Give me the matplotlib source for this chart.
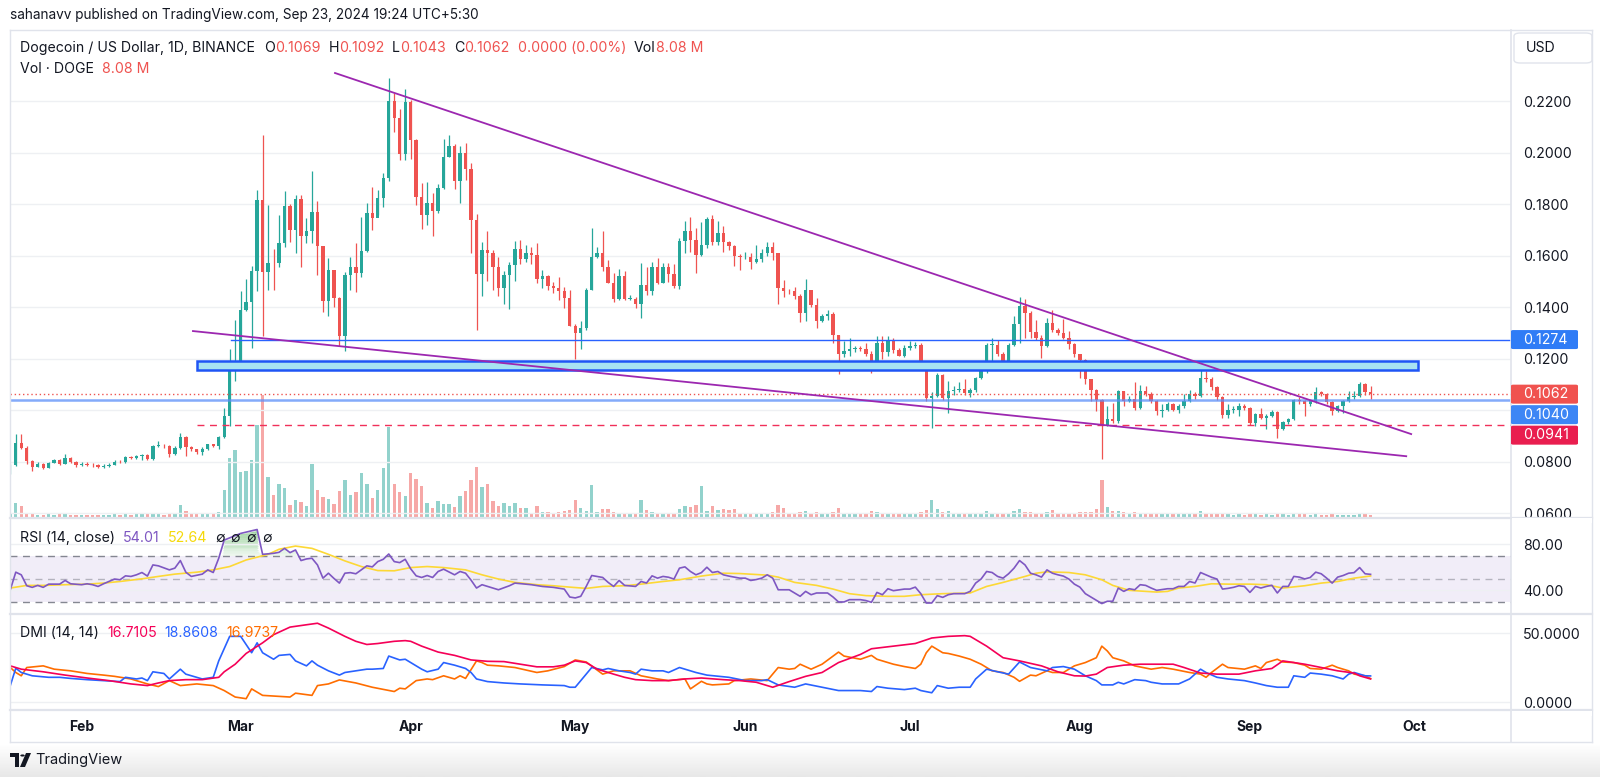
import numpy as np
import pandas as pd
import matplotlib
matplotlib.use("Agg")
import matplotlib.pyplot as plt
import matplotlib.dates as mdates
from matplotlib.patches import Rectangle, FancyBboxPatch, Polygon, Circle
from matplotlib.lines import Line2D

plt.rcParams["font.family"] = ["Inter", "DejaVu Sans"]

W, H = 1600, 777

# ---------------------------------------------------------------- data
# DOGE/USD daily candles, Binance, 19 Jan 2024 .. 23 Sep 2024
first_open = 0.0786
close = [
    # Jan 19-31
    0.0788, 0.0874, 0.0854, 0.0803, 0.0781, 0.0792, 0.0777, 0.0796, 0.0805, 0.0792, 0.0815, 0.0799, 0.0786,
    # Feb
    0.0790, 0.0788, 0.0786, 0.0781, 0.0784, 0.0788, 0.0800, 0.0797, 0.0818, 0.0815, 0.0820, 0.0825, 0.0809, 0.0861,
    0.0862, 0.0860, 0.0828, 0.0854, 0.0895, 0.0857, 0.0848, 0.0837, 0.0850, 0.0867, 0.0862, 0.0896, 0.0977, 0.1157, 0.1177,
    # Mar
    0.1390, 0.1419, 0.1542, 0.1815, 0.1538, 0.1573, 0.1570, 0.1648, 0.1794, 0.1699, 0.1818, 0.1677, 0.1697, 0.1770,
    0.1639, 0.1425, 0.1545, 0.1434, 0.1286, 0.1525, 0.1555, 0.1532, 0.1619, 0.1766, 0.1747, 0.1822, 0.1903, 0.2200,
    0.2135, 0.1994, 0.2196,
    # Apr
    0.2050, 0.1828, 0.1757, 0.1803, 0.1774, 0.1861, 0.1984, 0.2025, 0.1889, 0.1999, 0.1938, 0.1738, 0.1528, 0.1622,
    0.1612, 0.1557, 0.1476, 0.1525, 0.1564, 0.1625, 0.1587, 0.1612, 0.1601, 0.1510, 0.1519, 0.1483, 0.1476, 0.1463,
    0.1435, 0.1328,
    # May
    0.1299, 0.1319, 0.1467, 0.1596, 0.1612, 0.1557, 0.1495, 0.1431, 0.1521, 0.1431, 0.1431, 0.1412, 0.1485, 0.1461,
    0.1555, 0.1495, 0.1555, 0.1529, 0.1483, 0.1657, 0.1695, 0.1661, 0.1603, 0.1641, 0.1741, 0.1654, 0.1686, 0.1654,
    0.1637, 0.1599, 0.1594,
    # Jun
    0.1596, 0.1577, 0.1586, 0.1609, 0.1632, 0.1609, 0.1476, 0.1463, 0.1461, 0.1444, 0.1377, 0.1467, 0.1409, 0.1348,
    0.1364, 0.1374, 0.1293, 0.1219, 0.1228, 0.1237, 0.1240, 0.1237, 0.1219, 0.1190, 0.1261, 0.1225, 0.1267, 0.1232,
    0.1212, 0.1241,
    # Jul
    0.1250, 0.1254, 0.1190, 0.1048, 0.1054, 0.1138, 0.1048, 0.1074, 0.1080, 0.1083, 0.1067, 0.1077, 0.1125, 0.1160,
    0.1254, 0.1254, 0.1219, 0.1190, 0.1254, 0.1335, 0.1405, 0.1379, 0.1302, 0.1280, 0.1250, 0.1338, 0.1312, 0.1299,
    0.1280, 0.1258, 0.1216,
    # Aug
    0.1196, 0.1119, 0.1080, 0.1041, 0.0944, 0.0964, 0.0957, 0.1073, 0.1035, 0.1045, 0.1009, 0.1074, 0.1064, 0.1035,
    0.0996, 0.1002, 0.1022, 0.1002, 0.1017, 0.1035, 0.1061, 0.1054, 0.1125, 0.1121, 0.1090, 0.1052, 0.0983, 0.1000,
    0.1002, 0.1017, 0.1009,
    # Sep 1-23
    0.0951, 0.0986, 0.0970, 0.0979, 0.0992, 0.0925, 0.0953, 0.0964, 0.1041, 0.1035, 0.1022, 0.1035, 0.1070, 0.1061,
    0.1031, 0.0996, 0.1015, 0.1035, 0.1052, 0.1054, 0.1103, 0.1069, 0.1062,
]
high = [
    0.0792, 0.0906, 0.0906, 0.0860, 0.0805, 0.0800, 0.0795, 0.0800, 0.0812, 0.0810, 0.0831, 0.0818, 0.0803,
    0.0800, 0.0797, 0.0793, 0.0790, 0.0790, 0.0795, 0.0806, 0.0806, 0.0822, 0.0823, 0.0826, 0.0831, 0.0828, 0.0866,
    0.0880, 0.0870, 0.0863, 0.0862, 0.0912, 0.0900, 0.0862, 0.0850, 0.0855, 0.0870, 0.0868, 0.0900, 0.1009, 0.1236, 0.1351,
    0.1461, 0.1508, 0.1560, 0.1854, 0.2067, 0.1796, 0.1625, 0.1757, 0.1850, 0.1800, 0.1835, 0.1834, 0.1745, 0.1929,
    0.1813, 0.1639, 0.1590, 0.1545, 0.1439, 0.1538, 0.1596, 0.1650, 0.1751, 0.1803, 0.1867, 0.1854, 0.1921, 0.2290,
    0.2231, 0.2170, 0.2246,
    0.2205, 0.2054, 0.1880, 0.1886, 0.1845, 0.1877, 0.2054, 0.2067, 0.2035, 0.2025, 0.2037, 0.1960, 0.1760, 0.1654,
    0.1695, 0.1620, 0.1594, 0.1540, 0.1577, 0.1658, 0.1661, 0.1641, 0.1632, 0.1648, 0.1545, 0.1525, 0.1499, 0.1515,
    0.1480, 0.1467,
    0.1335, 0.1348, 0.1474, 0.1706, 0.1635, 0.1695, 0.1583, 0.1534, 0.1547, 0.1542, 0.1448, 0.1440, 0.1573, 0.1555,
    0.1577, 0.1592, 0.1573, 0.1570, 0.1568, 0.1667, 0.1735, 0.1751, 0.1706, 0.1732, 0.1751, 0.1757, 0.1735, 0.1716,
    0.1658, 0.1640, 0.1605,
    0.1615, 0.1609, 0.1641, 0.1625, 0.1654, 0.1654, 0.1612, 0.1505, 0.1470, 0.1480, 0.1450, 0.1508, 0.1467, 0.1435,
    0.1374, 0.1390, 0.1380, 0.1290, 0.1267, 0.1280, 0.1250, 0.1250, 0.1261, 0.1228, 0.1289, 0.1289, 0.1289, 0.1280,
    0.1241, 0.1254,
    0.1270, 0.1264, 0.1260, 0.1192, 0.1070, 0.1145, 0.1140, 0.1112, 0.1095, 0.1108, 0.1121, 0.1085, 0.1130, 0.1170,
    0.1261, 0.1280, 0.1274, 0.1225, 0.1260, 0.1364, 0.1439, 0.1431, 0.1385, 0.1351, 0.1293, 0.1357, 0.1390, 0.1320,
    0.1354, 0.1306, 0.1262,
    0.1218, 0.1198, 0.1122, 0.1082, 0.1043, 0.1015, 0.1028, 0.1080, 0.1075, 0.1055, 0.1108, 0.1099, 0.1095, 0.1070,
    0.1040, 0.1022, 0.1030, 0.1028, 0.1025, 0.1061, 0.1080, 0.1070, 0.1157, 0.1151, 0.1130, 0.1092, 0.1055, 0.1022,
    0.1015, 0.1028, 0.1025,
    0.1012, 0.0990, 0.1009, 0.0985, 0.1000, 0.0995, 0.0958, 0.0970, 0.1045, 0.1050, 0.1040, 0.1040, 0.1089, 0.1076,
    0.1066, 0.1035, 0.1020, 0.1040, 0.1076, 0.1074, 0.1108, 0.1105, 0.1092,
]
low = [
    0.0752, 0.0784, 0.0850, 0.0790, 0.0764, 0.0778, 0.0772, 0.0774, 0.0793, 0.0787, 0.0790, 0.0793, 0.0780,
    0.0782, 0.0784, 0.0780, 0.0776, 0.0775, 0.0780, 0.0785, 0.0793, 0.0795, 0.0810, 0.0812, 0.0806, 0.0805, 0.0805,
    0.0855, 0.0853, 0.0818, 0.0825, 0.0850, 0.0822, 0.0840, 0.0830, 0.0826, 0.0845, 0.0856, 0.0850, 0.0893, 0.0938, 0.1112,
    0.1170, 0.1385, 0.1241, 0.1461, 0.1286, 0.1467, 0.1467, 0.1557, 0.1635, 0.1654, 0.1609, 0.1557, 0.1650, 0.1650,
    0.1523, 0.1381, 0.1366, 0.1399, 0.1250, 0.1228, 0.1467, 0.1458, 0.1516, 0.1615, 0.1699, 0.1757, 0.1790, 0.1890,
    0.2080, 0.1970, 0.1973,
    0.1977, 0.1796, 0.1702, 0.1719, 0.1677, 0.1766, 0.1857, 0.1983, 0.1857, 0.1803, 0.1895, 0.1609, 0.1310, 0.1445,
    0.1503, 0.1467, 0.1444, 0.1412, 0.1392, 0.1503, 0.1568, 0.1577, 0.1568, 0.1495, 0.1474, 0.1467, 0.1454, 0.1428,
    0.1396, 0.1325,
    0.1199, 0.1237, 0.1312, 0.1467, 0.1590, 0.1542, 0.1493, 0.1418, 0.1428, 0.1426, 0.1426, 0.1396, 0.1357, 0.1448,
    0.1448, 0.1490, 0.1493, 0.1499, 0.1474, 0.1470, 0.1609, 0.1615, 0.1532, 0.1599, 0.1630, 0.1640, 0.1641, 0.1615,
    0.1622, 0.1561, 0.1545,
    0.1585, 0.1547, 0.1570, 0.1577, 0.1600, 0.1583, 0.1412, 0.1440, 0.1452, 0.1431, 0.1341, 0.1348, 0.1400, 0.1319,
    0.1341, 0.1350, 0.1261, 0.1142, 0.1205, 0.1209, 0.1225, 0.1228, 0.1212, 0.1145, 0.1190, 0.1200, 0.1209, 0.1222,
    0.1209, 0.1205,
    0.1232, 0.1240, 0.1170, 0.1035, 0.0932, 0.1050, 0.1041, 0.0990, 0.1060, 0.1070, 0.1060, 0.1052, 0.1070, 0.1120,
    0.1145, 0.1190, 0.1210, 0.1173, 0.1177, 0.1250, 0.1261, 0.1280, 0.1280, 0.1274, 0.1203, 0.1245, 0.1305, 0.1290,
    0.1275, 0.1237, 0.1205,
    0.1125, 0.1103, 0.1035, 0.0996, 0.0809, 0.0938, 0.0950, 0.0950, 0.1015, 0.1030, 0.1000, 0.1005, 0.1055, 0.1028,
    0.0980, 0.0974, 0.0995, 0.0995, 0.0990, 0.1010, 0.1030, 0.1045, 0.1050, 0.1110, 0.1080, 0.1040, 0.0970, 0.0970,
    0.0990, 0.0977, 0.1000,
    0.0941, 0.0938, 0.0965, 0.0925, 0.0975, 0.0893, 0.0921, 0.0945, 0.0960, 0.1025, 0.0979, 0.1015, 0.1028, 0.1055,
    0.1025, 0.0983, 0.0992, 0.0990, 0.1030, 0.1045, 0.1050, 0.1060, 0.1043,
]
# volume, millions of DOGE
volume = [
    300, 1400, 1100, 400, 300, 200, 200, 300, 200, 300, 400, 200, 200,
    200, 200, 200, 200, 200, 200, 300, 200, 300, 200, 300, 400, 300, 400, 300, 200, 300, 300, 1200, 600, 300, 300,
    300, 400, 300, 500, 2700, 5900, 6700,
    4500, 4600, 5700, 9100, 12100, 4000, 2200, 3300, 2900, 1200, 1700, 1500, 1100, 5300, 2700, 2000, 1800, 1300,
    2600, 3700, 2200, 2500, 4400, 3300, 1900, 2700, 4900, 8900, 3300, 2500, 2100,
    4400, 3800, 3100, 1400, 900, 1600, 1300, 1300, 1000, 2100, 2600, 3700, 5000, 3000, 3300, 1600, 1100, 1400, 1100,
    1400, 900, 900, 400, 1100, 500, 500, 400, 500, 600, 700,
    1700, 900, 600, 3200, 500, 800, 800, 500, 400, 400, 300, 400, 1700, 700, 500, 400, 400, 300, 400, 800, 1100,
    1000, 1200, 3100, 600, 1100, 700, 800, 700, 800, 400,
    300, 400, 300, 400, 400, 500, 1200, 900, 400, 400, 500, 600, 400, 500, 300, 300, 500, 900, 400, 400, 300, 300,
    300, 600, 500, 300, 400, 300, 300, 300,
    300, 300, 500, 700, 1700, 800, 500, 600, 300, 300, 300, 300, 300, 400, 600, 400, 400, 300, 400, 600, 800, 500,
    500, 400, 400, 500, 700, 400, 400, 400, 400,
    500, 500, 500, 800, 3700, 1000, 600, 600, 500, 400, 500, 400, 300, 300, 400, 300, 300, 300, 300, 300, 300, 300,
    600, 400, 300, 300, 400, 300, 200, 300, 200,
    300, 300, 200, 300, 200, 300, 300, 200, 400, 300, 300, 200, 300, 200, 200, 300, 200, 200, 200, 200, 300, 300, 200,
]

rsi_day = [-13, -12, -11, -10, -9, -8, -7, -6, -4, -3, -2, 0, 1, 2, 3, 4, 6, 7, 8, 9, 10, 11, 12, 13, 14, 16, 17,
           18, 19, 20, 22, 23, 24, 25, 26, 29, 32, 33, 35, 36, 37, 38, 39, 40, 41, 42, 43, 44, 45, 46, 47, 48, 49,
           50, 51, 52, 53, 54, 55, 56, 57, 58, 59, 60, 61, 62, 63, 64, 65, 66, 68, 69, 70, 71, 72, 73, 74, 76, 78,
           79, 81, 82, 84, 86, 88, 89, 90, 91, 92, 93, 95, 96, 97, 98, 99, 101, 102, 103, 104, 105, 106, 107, 108,
           109, 110, 111, 112, 113, 114, 115, 116, 117, 118, 119, 120, 121, 122, 123, 124, 125, 126, 127, 129, 131,
           132, 133, 134, 136, 137, 138, 139, 140, 142, 143, 144, 145, 146, 147, 148, 150, 151, 152, 153, 154, 155,
           156, 157, 158, 159, 161, 162, 163, 164, 165, 166, 167, 168, 169, 170, 171, 172, 173, 174, 175, 176, 177,
           178, 179, 180, 181, 182, 183, 184, 185, 186, 187, 188, 189, 190, 191, 192, 193, 194, 195, 196, 198, 199,
           200, 201, 202, 203, 204, 205, 206, 207, 208, 209, 210, 211, 212, 213, 214, 215, 216, 217, 218, 219, 220,
           221, 222, 223, 224, 225, 226, 227, 228, 229, 230, 231, 232, 233, 234, 235]
rsi_val = [40.6, 55.9, 53.6, 44.1, 42.7, 44.4, 42.7, 45.5, 45.5, 48.7, 45.8, 45.0, 45.8, 45.0, 43.5, 45.8, 49.9,
           49.3, 52.7, 52.2, 53.6, 55.6, 52.5, 62.2, 61.4, 57.9, 59.4, 66.0, 55.9, 52.2, 54.2, 57.9, 55.6, 68.0,
           83.8, 89.6, 93.0, 71.4, 72.3, 73.2, 76.6, 72.9, 75.2, 66.0, 67.4, 68.0, 62.2, 50.7, 55.0, 50.5, 46.4,
           55.0, 55.5, 54.5, 57.9, 61.4, 60.5, 65.1, 67.1, 71.7, 65.1, 64.2, 67.1, 58.8, 52.7, 51.3, 53.0, 51.3,
           56.5, 58.5, 53.6, 56.5, 55.0, 49.0, 42.1, 45.0, 43.5, 40.6, 44.1, 46.4, 45.5, 45.0, 43.5, 42.7, 41.2,
           34.3, 33.5, 34.9, 43.5, 53.0, 51.3, 47.0, 43.5, 48.7, 44.4, 43.5, 47.8, 46.5, 52.7, 50.7, 52.2, 51.5,
           49.9, 59.4, 60.5, 56.5, 53.6, 55.5, 60.2, 55.6, 56.5, 53.6, 52.5, 51.6, 50.7, 50.7, 48.7, 49.5, 50.7,
           53.6, 50.7, 40.6, 40.6, 34.9, 39.2, 36.3, 37.8, 37.8, 34.3, 30.0, 30.0, 32.0, 32.0, 31.2, 29.7, 38.3,
           36.3, 41.5, 39.8, 41.2, 41.2, 42.9, 37.2, 29.1, 29.1, 35.5, 34.0, 36.3, 37.2, 37.2, 39.2, 46.4, 50.0,
           56.5, 55.6, 52.2, 50.7, 54.5, 59.4, 66.0, 62.2, 55.0, 53.6, 51.6, 57.9, 55.0, 53.6, 52.5, 49.9, 45.5,
           42.9, 37.2, 34.3, 31.4, 28.6, 30.6, 30.6, 42.1, 39.2, 41.5, 40.6, 45.0, 44.4, 42.1, 40.1, 41.5, 41.5,
           43.5, 43.5, 47.8, 46.5, 55.6, 53.6, 51.5, 49.9, 41.2, 41.8, 42.7, 44.1, 43.5, 38.3, 43.5, 42.1, 43.5,
           44.5, 37.8, 43.5, 43.5, 52.2, 51.6, 50.0, 51.3, 55.9, 54.5, 50.7, 46.4, 51.6, 53.0, 55.0, 55.5, 59.9,
           54.5, 54.0]
rsi_ma_day = [-13, -10, -7, -3, 1, 4, 7, 11, 14, 17, 21, 24, 27, 30, 34, 36, 39, 42, 45, 48, 51, 54, 57, 60, 63,
              66, 70, 73, 76, 79, 83, 86, 89, 92, 95, 99, 102, 106, 109, 113, 117, 120, 125, 127, 130, 134, 137,
              140, 143, 147, 150, 153, 157, 162, 165, 168, 172, 174, 176, 180, 183, 186, 188, 191, 194, 196, 198,
              200, 203, 206, 209, 213, 216, 219, 223, 226, 229, 232, 235]
rsi_ma_val = [42.1, 44.4, 44.4, 45.0, 45.5, 46.4, 47.8, 50.1, 52.2, 54.2, 55.9, 57.9, 60.8, 66.5, 71.4, 75.8,
              78.6, 76.6, 71.4, 65.7, 60.8, 57.3, 57.1, 59.9, 60.8, 59.9, 57.9, 53.6, 49.9, 47.0, 45.0, 44.1, 42.9,
              41.8, 43.5, 44.1, 45.5, 47.8, 49.3, 52.5, 55.0, 54.7, 53.3, 51.6, 47.0, 44.4, 41.2, 37.2, 35.5, 34.9,
              34.9, 36.3, 37.2, 37.8, 43.5, 47.0, 52.2, 55.0, 56.2, 55.6, 53.6, 49.3, 44.4, 40.1, 39.2, 38.6, 39.2,
              42.1, 43.5, 45.8, 45.5, 45.5, 45.0, 42.1, 44.1, 46.4, 47.8, 50.7, 52.6]

adx_day = [-13, -11, -7, -3, 1, 5, 9, 12, 14, 16, 19, 22, 25, 26, 28, 30, 33, 35, 38, 41, 43, 45, 48, 50, 52, 54,
           57, 59, 60, 62, 65, 68, 71, 74, 77, 80, 83, 86, 88, 90, 92, 94, 97, 99, 101, 104, 107, 110, 113, 114,
           117, 120, 123, 126, 129, 132, 135, 138, 142, 144, 148, 152, 155, 158, 161, 162, 165, 168, 171, 175,
           178, 181, 183, 185, 187, 190, 193, 196, 199, 201, 204, 207, 211, 214, 217, 219, 221, 223, 226, 229,
           232, 233, 235]
adx_val = [26.2, 23.8, 21.9, 19.5, 17.4, 15.5, 13.1, 11.9, 13.8, 15.5, 16.2, 16.2, 17.9, 21.9, 27.4, 35.2, 42.9,
           48.8, 54.3, 56.0, 57.1, 53.6, 47.6, 44.0, 41.7, 42.4, 44.0, 44.5, 44.0, 40.5, 36.2, 33.8, 30.5, 29.5,
           29.3, 27.4, 25.5, 25.5, 26.7, 29.8, 28.6, 23.8, 20.2, 17.9, 16.2, 15.5, 15.5, 16.7, 17.4, 17.1, 16.2,
           15.5, 14.3, 10.7, 14.8, 18.6, 21.4, 28.6, 34.5, 38.6, 40.5, 42.4, 46.4, 47.6, 48.1, 47.6, 40.5, 32.1,
           29.8, 26.2, 21.9, 19.0, 18.8, 20.2, 25.0, 26.7, 27.4, 27.4, 27.4, 25.0, 21.0, 20.2, 20.2, 22.6, 24.3,
           29.8, 28.6, 27.4, 25.0, 22.6, 21.0, 19.0, 16.7]
pdi_day = [-13, -12, -11, -9, -6, -4, -2, 1, 4, 7, 8, 10, 11, 12, 13, 15, 16, 18, 19, 21, 22, 24, 25, 27, 29, 31,
           32, 33, 35, 36, 38, 39, 41, 42, 43, 45, 47, 48, 50, 52, 53, 55, 56, 58, 59, 60, 62, 63, 65, 66, 68, 70,
           71, 72, 74, 77, 80, 84, 88, 89, 90, 93, 95, 96, 98, 100, 101, 102, 104, 106, 107, 109, 110, 112, 114,
           118, 121, 124, 125, 127, 130, 132, 135, 138, 142, 144, 145, 147, 150, 152, 153, 155, 156, 158, 160, 162,
           163, 165, 167, 169, 171, 173, 176, 177, 179, 181, 183, 185, 186, 188, 189, 190, 192, 194, 195, 197, 199,
           200, 202, 204, 205, 207, 209, 212, 214, 216, 218, 220, 221, 223, 224, 226, 228, 230, 231, 232, 234, 235]
pdi_val = [11.9, 24.5, 21.4, 19.0, 17.9, 17.9, 17.1, 16.2, 15.5, 14.8, 17.9, 16.7, 17.4, 15.5, 21.9, 20.7, 16.7,
           23.8, 20.2, 17.9, 16.7, 17.9, 29.8, 47.6, 47.6, 35.7, 42.9, 35.7, 31.0, 33.8, 34.5, 29.8, 26.2, 29.8,
           26.7, 22.6, 19.5, 21.4, 22.6, 23.8, 23.8, 24.3, 33.3, 30.5, 31.0, 28.6, 23.8, 21.9, 23.8, 28.6, 26.7,
           24.3, 21.4, 16.7, 14.8, 13.8, 13.1, 12.4, 11.9, 10.7, 10.7, 25.0, 23.3, 24.3, 22.6, 21.4, 20.2, 23.8,
           22.6, 22.6, 21.4, 25.0, 23.8, 21.4, 19.5, 17.9, 15.5, 15.5, 16.2, 12.4, 10.7, 13.1, 10.7, 8.3, 8.3, 7.6,
           11.2, 10.0, 9.0, 10.0, 8.3, 6.7, 11.9, 10.0, 10.7, 10.7, 16.7, 23.8, 21.9, 20.2, 29.0, 25.0, 22.6, 25.0,
           25.7, 23.8, 19.0, 15.5, 12.4, 12.4, 14.3, 13.1, 16.2, 15.5, 14.3, 13.1, 13.1, 13.1, 16.7, 23.8, 21.4,
           17.9, 16.7, 15.5, 13.8, 11.9, 10.7, 10.7, 19.0, 17.9, 21.0, 20.2, 19.0, 16.7, 20.2, 21.4, 19.0, 18.9]
mdi_day = [-13, -12, -11, -10, -7, -5, -2, 1, 4, 6, 9, 12, 14, 16, 18, 21, 24, 26, 28, 30, 31, 33, 38, 39, 42, 43,
           45, 47, 50, 53, 57, 58, 59, 61, 63, 64, 66, 68, 69, 70, 72, 73, 74, 76, 79, 83, 85, 88, 90, 92, 95, 97,
           100, 102, 105, 107, 110, 111, 113, 114, 115, 118, 119, 122, 125, 127, 129, 130, 131, 133, 135, 138, 139,
           142, 144, 145, 148, 150, 152, 153, 154, 155, 157, 158, 160, 162, 164, 166, 168, 170, 171, 173, 174, 176,
           177, 179, 181, 183, 185, 186, 187, 188, 190, 192, 195, 197, 199, 202, 204, 205, 206, 208, 209, 212, 214,
           215, 216, 218, 219, 221, 223, 224, 226, 228, 229, 231, 232, 234, 235]
mdi_val = [25.0, 21.4, 19.0, 25.0, 26.2, 23.8, 22.6, 20.7, 19.5, 18.6, 16.7, 13.1, 11.2, 15.5, 11.9, 13.1, 11.9,
           8.3, 3.6, 2.4, 9.5, 4.8, 3.6, 6.4, 4.8, 11.9, 13.1, 16.0, 13.8, 10.7, 7.6, 10.0, 9.5, 15.5, 16.7, 16.2,
           19.0, 16.7, 19.0, 17.1, 29.8, 28.6, 26.7, 26.2, 25.0, 21.4, 22.6, 25.7, 30.5, 29.0, 20.2, 22.6, 22.6,
           19.0, 16.7, 15.5, 16.7, 9.5, 15.0, 13.1, 12.4, 13.1, 15.5, 16.7, 15.5, 25.0, 23.8, 24.3, 27.4, 23.8,
           27.4, 36.2, 33.3, 31.0, 33.8, 31.0, 27.4, 25.7, 24.3, 27.4, 35.7, 40.5, 35.7, 35.2, 33.3, 31.0, 27.4,
           22.6, 21.4, 17.9, 15.0, 19.5, 19.0, 22.6, 21.4, 21.4, 26.2, 28.6, 32.1, 40.5, 37.0, 32.1, 29.8, 26.2,
           23.8, 25.0, 23.8, 21.4, 20.2, 17.9, 21.4, 27.4, 25.0, 23.8, 26.2, 24.3, 28.6, 31.0, 29.0, 28.6, 26.7,
           24.3, 23.8, 26.7, 25.0, 22.6, 20.2, 19.0, 17.0]

# drawings on the price pane (day offsets from 1 Feb 2024)
upper_trend_day, upper_trend_price = [46.2, 242.4], [0.2309, 0.0907]
lower_trend_day, lower_trend_price = [20.3, 241.5], [0.1307, 0.0821]
zone_day, zone_price = [21.0, 243.6], [0.1155, 0.1190]
resist_level, resist_start = 0.1274, 27.2
support_level = 0.1040
last_price = 0.1062
low_level, low_start = 0.0941, 21.0

# ---------------------------------------------------------------- style
GREEN, RED = "#26a69a", "#ef5350"
DARK = "#131722"
GRID = "#eef0f3"
SEP = "#e0e3eb"
FS = 10.2

def fx(x):
    return x / W

def fy(y):
    return 1 - y / H

def rect(x0, y0, x1, y1):
    return [fx(x0), fy(y1), (x1 - x0) / W, (y1 - y0) / H]

fig = plt.figure(figsize=(16, 7.77), dpi=100)
fig.patch.set_facecolor("white")

# footer background
ax_bg = fig.add_axes(rect(0, 744, 1600, 777))
ax_bg.imshow(np.linspace(1.0, 0.0, 30).reshape(-1, 1), cmap=plt.matplotlib.colors.LinearSegmentedColormap.from_list(
    "f", ["#e8e8e8", "#ffffff"]), aspect="auto", extent=(0, 1, 0, 1))
ax_bg.axis("off")

L, R = 10, 1511
ax_vol = fig.add_axes(rect(L, 30, R, 517))
ax = fig.add_axes(rect(L, 30, R, 517), sharex=ax_vol)
ax.set_facecolor("none")
ax_rsi = fig.add_axes(rect(L, 518, R, 613), sharex=ax_vol)
ax_dmi = fig.add_axes(rect(L, 614, R, 710), sharex=ax_vol)

feb1 = mdates.date2num(pd.Timestamp("2024-02-01"))
px_per_day = 5.485
x_left = feb1 - (81.6 - L) / px_per_day
ax_vol.set_xlim(x_left, x_left + (R - L) / px_per_day)

dates = pd.date_range("2024-01-19", periods=len(close), freq="D")
x = mdates.date2num(dates)
c = np.array(close)
hi = np.array(high)
lo = np.array(low)
vol = np.array(volume, dtype=float)
o = np.r_[first_open, c[:-1]]   # 24/7 market: each open is the previous close
up = c >= o
col = np.where(up, GREEN, RED)

for a in (ax_vol, ax, ax_rsi, ax_dmi):
    for s in a.spines.values():
        s.set_visible(False)
    a.tick_params(length=0, labelbottom=False, labelleft=False)

# volume
ax_vol.bar(x, vol, width=0.62, color=np.where(up, GREEN + "80", RED + "80"), linewidth=0)
ax_vol.set_ylim(0, vol.max() * 4.0)
ax_vol.set_yticks([])

# price pane
ax.set_ylim(0.0585, 0.2476)
ticks = [0.06, 0.08, 0.10, 0.12, 0.14, 0.16, 0.18, 0.20, 0.22]
ax.set_yticks(ticks)
ax.set_yticklabels(["" if abs(t - 0.10) < 1e-9 else f"{t:.4f}" for t in ticks])
for a in (ax, ax_rsi, ax_dmi):
    a.yaxis.tick_right()
    a.tick_params(axis="y", length=0, pad=8.6, labelsize=FS, labelcolor=DARK, labelright=True)
ax.grid(axis="y", color=GRID, lw=1)
ax.set_axisbelow(True)

ax.vlines(x, lo, hi, colors=col, lw=0.9, zorder=3)
ax.bar(x, np.maximum(np.abs(c - o), 0.00025), bottom=np.minimum(o, c), width=0.62, color=col,
       linewidth=0, zorder=4)

x_right = ax.get_xlim()[1]
zx = [feb1 + d for d in zone_day]
ax.add_patch(Rectangle((zx[0], zone_price[0]), zx[1] - zx[0], zone_price[1] - zone_price[0],
                       facecolor="#a8e3f2", edgecolor="#1f55f5", lw=1.8, zorder=5))
ax.plot([feb1 + resist_start, x_right], [resist_level] * 2, color="#2962ff", lw=1.0, zorder=5)
ax.axhline(support_level, color="#5b8ff9", lw=1.8, alpha=0.75, zorder=5)
ax.axhline(last_price, color=RED, lw=1.0, ls=(0, (1, 2)), zorder=5)
ax.plot([feb1 + low_start, x_right], [low_level] * 2, color="#f0305a", lw=1.0, ls=(0, (5, 4)), zorder=5)
ax.plot([feb1 + d for d in upper_trend_day], upper_trend_price, color="#9c27b0", lw=1.3, zorder=6)
ax.plot([feb1 + d for d in lower_trend_day], lower_trend_price, color="#9c27b0", lw=1.3, zorder=6)

# RSI pane
ax_rsi.set_ylim(20.4, 103)
ax_rsi.set_yticks([40, 80])
ax_rsi.set_yticklabels(["40.00", "80.00"])
ax_rsi.grid(axis="y", color=GRID, lw=1)
ax_rsi.axhspan(30, 70, color="#7e57c2", alpha=0.1, lw=0)
for lvl in (30, 50, 70):
    ax_rsi.axhline(lvl, color="#787b86", lw=1, ls=(0, (5, 4)), alpha=0.9 if lvl != 50 else 0.5)
xr = feb1 + np.array(rsi_day, dtype=float)
rv = np.array(rsi_val)
for k, lv in enumerate(np.arange(70, 94, 2.0)):
    ax_rsi.fill_between(xr, lv, np.minimum(rv, lv + 2), where=rv > lv, interpolate=True,
                        color="#4caf50", alpha=0.10 + 0.04 * k, lw=0)
ax_rsi.fill_between(xr, rv, 30, where=rv < 30, interpolate=True, color="#f23645", alpha=0.25, lw=0)
ax_rsi.plot(feb1 + np.array(rsi_ma_day, dtype=float), rsi_ma_val, color="#fdd835", lw=1.2)
ax_rsi.plot(xr, rv, color="#7e57c2", lw=1.2)

# DMI pane
ax_dmi.set_ylim(-5.8, 63.8)
ax_dmi.set_yticks([0, 50])
ax_dmi.set_yticklabels(["0.0000", "50.0000"])
ax_dmi.grid(axis="y", color=GRID, lw=1)
ax_dmi.plot(feb1 + np.array(mdi_day, dtype=float), mdi_val, color="#ff6d00", lw=1.2)
ax_dmi.plot(feb1 + np.array(pdi_day, dtype=float), pdi_val, color="#2962ff", lw=1.2)
ax_dmi.plot(feb1 + np.array(adx_day, dtype=float), adx_val, color="#f50057", lw=1.2)
ax_dmi.xaxis.set_major_locator(mdates.MonthLocator())
ax_dmi.xaxis.set_major_formatter(mdates.DateFormatter("%b"))
ax_dmi.tick_params(axis="x", labelbottom=True, pad=7, labelsize=10, labelcolor=DARK)
for lab in ax_dmi.get_xticklabels():
    lab.set_fontweight("bold")

# ---------------------------------------------------------------- frame
def hline(y, x0, x1, color=SEP, lw=1.2):
    fig.add_artist(Line2D([fx(x0), fx(x1)], [fy(y), fy(y)], color=color, lw=lw, transform=fig.transFigure))

def vline(xp, y0, y1, color=SEP, lw=1.2):
    fig.add_artist(Line2D([fx(xp), fx(xp)], [fy(y0), fy(y1)], color=color, lw=lw, transform=fig.transFigure))

# the scale clips labels that run past a pane border
for y0, y1 in ((518, 523), (710.5, 716)):
    fig.add_artist(Rectangle((fx(R + 1), fy(y1)), (1591 - R) / W, (y1 - y0) / H, transform=fig.transFigure,
                             facecolor="white", edgecolor="none", zorder=5))

for yy in (517.5, 613.5, 710):
    hline(yy, L, 1592, lw=1.6)
hline(30, L, 1592, lw=1.0)
hline(742, L, 1592, lw=1.0)
vline(L, 30, 742, lw=1.0)
vline(1592, 30, 742, lw=1.0)
vline(R, 30, 742, lw=1.2)

fig.add_artist(FancyBboxPatch((fx(1514), fy(63)), 78 / W, 30 / H, boxstyle="round,pad=0,rounding_size=0.004",
                              transform=fig.transFigure, facecolor="white", edgecolor=SEP, lw=1))
fig.text(fx(1526), fy(48), "USD", fontsize=FS, color=DARK, va="center", ha="left")

# price labels on the scale
def price_py(p):
    return H - ax.transData.transform((x_left, p))[1]

boxes = [(resist_level, "#2f7cf6"), (last_price, "#f0524f"), (support_level, "#3d86f5"), (low_level, "#e91e4f")]
prev = -100
for p, color in boxes:
    yy = max(price_py(p), prev + 20.5)
    prev = yy
    fig.add_artist(FancyBboxPatch((fx(1511), fy(yy + 9.5)), 67 / W, 19 / H,
                                  boxstyle="round,pad=0,rounding_size=0.0015", transform=fig.transFigure,
                                  facecolor=color, edgecolor="none", zorder=10))
    fig.text(fx(1523), fy(yy), f"{p:.4f}", fontsize=FS, color="white", va="center", ha="left", zorder=11)

# ---------------------------------------------------------------- texts
renderer = fig.canvas.get_renderer()

def rich(x0, y0, parts, size=FS):
    xx = x0
    for s, color, gap in parts:
        t = fig.text(fx(xx), fy(y0), s, color=color, fontsize=size, va="center", ha="left", zorder=12)
        xx += t.get_window_extent(renderer=renderer).width + gap

fig.text(fx(10), fy(15), "sahanavv published on TradingView.com, Sep 23, 2024 19:24 UTC+5:30",
         fontsize=9.8, color=DARK, va="center", ha="left")
rich(20, 48, [("Dogecoin / US Dollar, 1D, BINANCE", DARK, 9),
              ("O", DARK, 0), ("0.1069", RED, 8), ("H", DARK, 0), ("0.1092", RED, 8),
              ("L", DARK, 0), ("0.1043", RED, 8), ("C", DARK, 0), ("0.1062", RED, 8),
              ("0.0000 (0.00%)", RED, 8), ("Vol", DARK, 0), ("8.08 M", RED, 0)])
rich(20, 69, [("Vol · DOGE", DARK, 8), ("8.08 M", RED, 0)])
rich(20, 538, [("RSI (14, close)", DARK, 8), ("54.01", "#7e57c2", 8), ("52.64", "#f5d90a", 8),
               ("∅", DARK, 6), ("∅", DARK, 6), ("∅", DARK, 6), ("∅", DARK, 0)])
rich(20, 633, [("DMI (14, 14)", DARK, 8), ("16.7105", "#f50057", 8), ("18.8608", "#2962ff", 8),
               ("16.9737", "#ff6d00", 0)])

# TradingView logo
fig.add_artist(Polygon([(fx(10), fy(753)), (fx(19), fy(753)), (fx(19), fy(767)), (fx(15), fy(767)),
                        (fx(15), fy(757)), (fx(10), fy(757))], closed=True, transform=fig.transFigure,
                       facecolor=DARK, edgecolor="none"))
fig.add_artist(Circle((fx(22.5), fy(755.5)), 2.2 / W, transform=fig.transFigure, facecolor=DARK, edgecolor="none"))
fig.add_artist(Polygon([(fx(26), fy(753)), (fx(31), fy(753)), (fx(25), fy(767)), (fx(20), fy(767))],
                       closed=True, transform=fig.transFigure, facecolor=DARK, edgecolor="none"))
fig.text(fx(35), fy(760), "TradingView", fontsize=10.5, color=DARK, va="center", ha="left")

fig.savefig("out.png", dpi=100)
